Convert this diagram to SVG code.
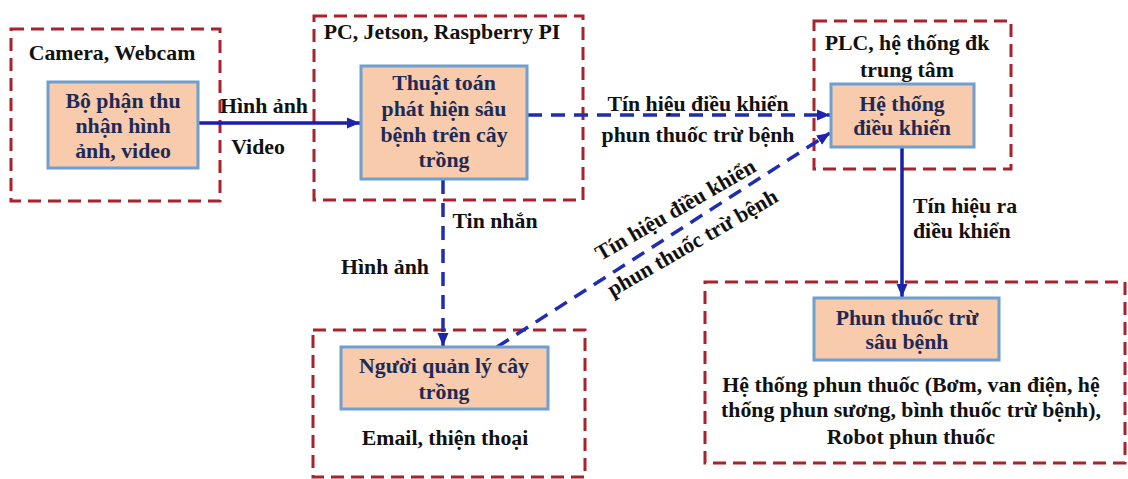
<svg xmlns="http://www.w3.org/2000/svg" width="1128" height="479" viewBox="0 0 1128 479">
<style>
.grp{fill:none;stroke:#A8232B;stroke-width:3;stroke-dasharray:13 7}
.node{fill:#F8CBAD;stroke:#6E9FD0;stroke-width:3}
.nt{font-family:"Liberation Serif","Times New Roman",serif;font-weight:bold;font-size:21.8px;fill:#1E2A55;text-anchor:middle}
.lt{font-family:"Liberation Serif","Times New Roman",serif;font-weight:bold;font-size:21.8px;fill:#111111;text-anchor:middle}
.ls{text-anchor:start}
.solid{fill:none;stroke:#1A1FA8;stroke-width:3.5}
.dash{fill:none;stroke:#1F2DB0;stroke-width:3.5;stroke-dasharray:14 9}
</style>
<defs>
<marker id="ah" markerUnits="userSpaceOnUse" markerWidth="14" markerHeight="14" viewBox="0 0 14 14" refX="13" refY="7" orient="auto">
<path d="M0,1.5 L13,7 L0,12.5 Z" fill="#1C24AA"/>
</marker>
</defs>
<rect width="1128" height="479" fill="#ffffff"/>

<g id="group-camera">
<rect class="grp" x="11" y="29" width="209" height="172"/>
<text class="lt" x="112" y="60">Camera, Webcam</text>
</g>
<g id="group-pc">
<rect class="grp" x="314" y="16" width="269" height="184"/>
<text class="lt" x="442" y="39">PC, Jetson, Raspberry PI</text>
</g>
<g id="group-plc">
<rect class="grp" x="814" y="21" width="197" height="148"/>
<text class="lt" x="907" y="50">PLC, hệ thống đk</text>
<text class="lt" x="907" y="77">trung tâm</text>
</g>
<g id="group-manager">
<rect class="grp" x="313" y="330" width="272" height="147"/>
<text class="lt" x="445" y="445">Email, thiện thoại</text>
</g>
<g id="group-spray">
<rect class="grp" x="705" y="282" width="420" height="181"/>
<text class="lt" x="911" y="392">Hệ thống phun thuốc (Bơm, van điện, hệ</text>
<text class="lt" x="911" y="417">thống phun sương, bình thuốc trừ bệnh),</text>
<text class="lt" x="911" y="444">Robot phun thuốc</text>
</g>

<g id="connectors">
<line class="solid" x1="198" y1="123" x2="360" y2="123" marker-end="url(#ah)"/>
<line class="dash" x1="528" y1="115" x2="830" y2="115" marker-end="url(#ah)"/>
<line class="dash" x1="443" y1="180" x2="443" y2="346" marker-end="url(#ah)"/>
<line class="dash" x1="497" y1="347" x2="830" y2="133" marker-end="url(#ah)"/>
<line class="solid" x1="902" y1="147" x2="902" y2="297" marker-end="url(#ah)"/>
<text class="lt" x="264" y="113">Hình ảnh</text>
<text class="lt" x="258" y="154">Video</text>
<text class="lt" x="698" y="111">Tín hiệu điều khiển</text>
<text class="lt" x="698" y="142">phun thuốc trừ bệnh</text>
<text class="lt" x="495" y="228">Tin nhắn</text>
<text class="lt" x="385" y="274">Hình ảnh</text>
<text class="lt" transform="translate(679,216) rotate(-30)">Tín hiệu điều khiển</text>
<text class="lt" transform="translate(696,249) rotate(-30)">phun thuốc trừ bệnh</text>
<text class="lt ls" x="913" y="213">Tín hiệu ra</text>
<text class="lt ls" x="913" y="238">điều khiển</text>
</g>

<g id="node-capture">
<rect class="node" x="48" y="82" width="150" height="86"/>
<text class="nt" x="123" y="108">Bộ phận thu</text>
<text class="nt" x="123" y="133">nhận hình</text>
<text class="nt" x="123" y="158">ảnh, video</text>
</g>
<g id="node-algorithm">
<rect class="node" x="361" y="66" width="166" height="113"/>
<text class="nt" x="444" y="90">Thuật toán</text>
<text class="nt" x="444" y="116">phát hiện sâu</text>
<text class="nt" x="444" y="142">bệnh trên cây</text>
<text class="nt" x="444" y="167">trồng</text>
</g>
<g id="node-control">
<rect class="node" x="831" y="84" width="143" height="63"/>
<text class="nt" x="902" y="111">Hệ thống</text>
<text class="nt" x="902" y="135">điều khiển</text>
</g>
<g id="node-manager">
<rect class="node" x="341" y="347" width="207" height="62"/>
<text class="nt" x="444" y="373">Người quản lý cây</text>
<text class="nt" x="444" y="399">trồng</text>
</g>
<g id="node-spray">
<rect class="node" x="814" y="298" width="185" height="62"/>
<text class="nt" x="907" y="325">Phun thuốc trừ</text>
<text class="nt" x="907" y="349">sâu bệnh</text>
</g>
</svg>
